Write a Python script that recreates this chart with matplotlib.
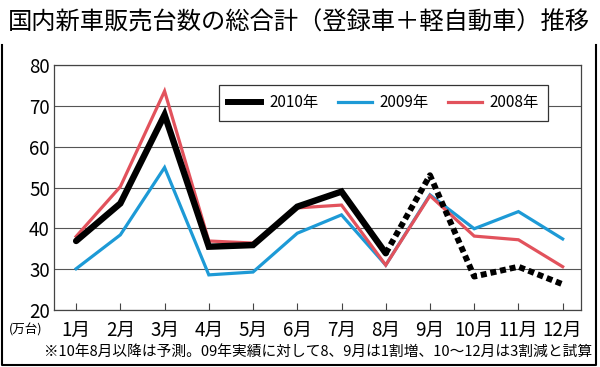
import matplotlib.pyplot as plt
from matplotlib.lines import Line2D

plt.rcParams['font.family'] = ['Liberation Sans Narrow', 'Noto Sans CJK JP', 'DejaVu Sans']

months = ['1月', '2月', '3月', '4月', '5月', '6月', '7月', '8月', '9月', '10月', '11月', '12月']
x = list(range(1, 13))
y2010 = [36.9, 46.1, 67.8, 35.5, 35.9, 45.3, 49.0, 33.9, 53.0, 28.2, 30.6, 26.3]
y2009 = [30.1, 38.4, 54.9, 28.6, 29.3, 38.8, 43.3, 31.0, 48.2, 39.9, 44.1, 37.4]
y2008 = [38.0, 50.2, 73.6, 36.9, 36.4, 45.0, 45.7, 31.0, 48.0, 38.1, 37.2, 30.6]
n_actual = 8  # 2010: Jan-Aug actual, Aug onward forecast

blue = '#1d9ad6'
red = '#e2525c'

fig = plt.figure(figsize=(6, 3.67), dpi=100)
ax = fig.add_axes([0.09, 0.1553, 0.878, 0.6676])

ax.plot(x, y2009, color=blue, lw=2.3, zorder=3, solid_joinstyle='miter')
ax.plot(x, y2008, color=red, lw=2.3, zorder=3, solid_joinstyle='miter')
ax.plot(x[:n_actual], y2010[:n_actual], color='black', lw=4.6, zorder=4,
        solid_joinstyle='miter', solid_capstyle='round')
ax.plot(x[n_actual - 1:], y2010[n_actual - 1:], color='black', lw=4.3, zorder=4,
        dashes=(1.0, 0.65), dash_capstyle='butt')

ax.set_xlim(0.5, 12.41)
ax.set_ylim(20, 80)
ax.set_yticks(range(20, 81, 10))
ax.set_xticks(x)
ax.set_xticklabels(months)
ax.grid(axis='y', color='#555555', lw=0.8)
ax.set_axisbelow(True)
for s in ax.spines.values():
    s.set_color('#444444')
    s.set_linewidth(0.9)
ax.tick_params(axis='x', direction='in', length=5, width=0.8, color='#444444',
               labelsize=13.5, pad=7)
ax.tick_params(axis='y', length=0, labelsize=13.5, pad=3)

handles = [Line2D([], [], color='black', lw=4.3),
           Line2D([], [], color=blue, lw=2.3),
           Line2D([], [], color=red, lw=2.3)]
leg = ax.legend(handles, ['2010年', '2009年', '2008年'], ncol=3, loc='center',
                bbox_to_anchor=(0.625, 0.845), fontsize=11, frameon=True,
                fancybox=False, edgecolor='#333333', framealpha=1,
                handlelength=2.2, handletextpad=0.5, columnspacing=1.3,
                borderpad=0.6, borderaxespad=0)
leg.get_frame().set_linewidth(0.9)
leg.set_zorder(5)

fig.text(0.013, 0.94, '国内新車販売台数の総合計（登録車＋軽自動車）推移',
         fontsize=17.5, family=['Noto Sans CJK JP', 'DejaVu Sans'],
         va='center', ha='left')
fig.text(0.043, 0.1, '(万台)', fontsize=9, ha='center', va='center',
         family=['Noto Sans CJK JP', 'DejaVu Sans'])
fig.text(0.987, 0.04, '※10年8月以降は予測。09年実績に対して8、9月は1割増、10～12月は3割減と試算',
         fontsize=10.6, ha='right', va='center',
         family=['Noto Sans CJK JP', 'DejaVu Sans'])

# outer frame below the title
fig.add_artist(Line2D([0.004, 0.004, 0.993, 0.993], [0.877, 0.005, 0.005, 0.877],
                      transform=fig.transFigure, color='black', lw=1.5))

fig.savefig('out.png', dpi=100)
